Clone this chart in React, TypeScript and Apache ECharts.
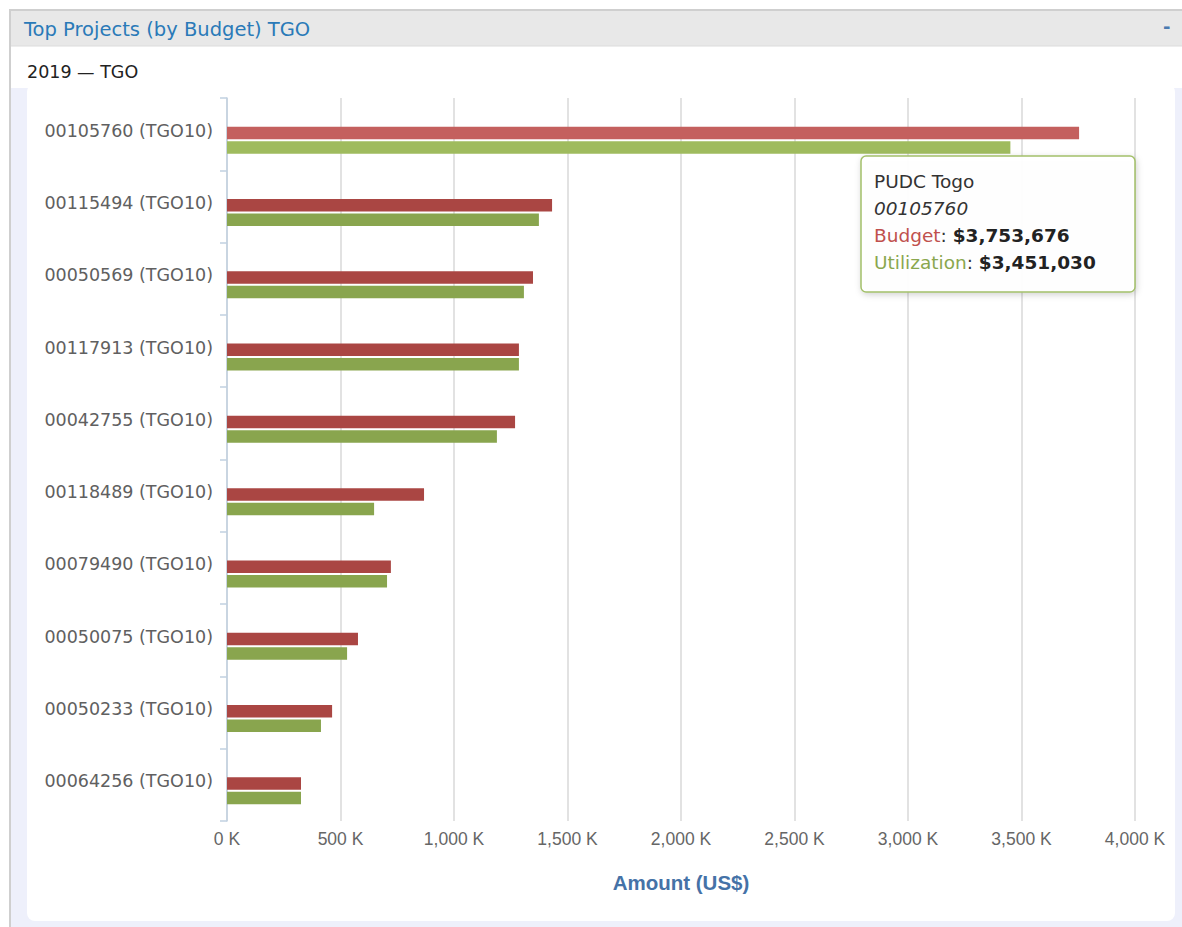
import React, { useEffect, useRef } from "react";
import * as echarts from "echarts";

const categories = [
  "00105760 (TGO10)",
  "00115494 (TGO10)",
  "00050569 (TGO10)",
  "00117913 (TGO10)",
  "00042755 (TGO10)",
  "00118489 (TGO10)",
  "00079490 (TGO10)",
  "00050075 (TGO10)",
  "00050233 (TGO10)",
  "00064256 (TGO10)",
];
const budget = [3753676, 1432000, 1348000, 1286000, 1269000, 868000, 722000, 577000, 463000, 326000];
const utilization = [3451030, 1374000, 1308000, 1286000, 1189000, 648000, 705000, 529000, 414000, 326000];
const xTicks = [0, 500000, 1000000, 1500000, 2000000, 2500000, 3000000, 3500000, 4000000];

const title = "Top Projects (by Budget) TGO";
const subtitle = "2019 — TGO";
const axisName = "Amount (US$)";
const tipTitle = "PUDC Togo";
const tipId = "00105760";
const tipBudget = "$3,753,676";
const tipUtil = "$3,451,030";

const RED = "#aa4643";
const GREEN = "#89a54e";
const RED_HI = "#c4605e";
const GREEN_HI = "#9fbb5e";

const fmtK = (v: number) => (v / 1000).toLocaleString("en-US") + " K";

export default function App() {
  const ref = useRef<HTMLDivElement>(null);
  useEffect(() => {
    if (!ref.current) return;
    const chart = echarts.init(ref.current, null, { renderer: "svg" });
    const gridLeft = 227;
    const gridRight = 1182 - 1135;
    const top = 98;
    const height = 723;
    const xMax = xTicks[xTicks.length - 1];
    const interval = xTicks[1] - xTicks[0];
    const labelFont = "'DejaVu Sans', Verdana, sans-serif";
    const narrowFont = "'Liberation Sans', Arial, sans-serif";
    const tipSize = 18.5;
    chart.setOption({
      animation: false,
      backgroundColor: "#ffffff",
      grid: [
        { left: gridLeft, right: gridRight, top, height, containLabel: false },
        { left: gridLeft, right: gridRight, top: top + 6, height, containLabel: false },
      ],
      xAxis: [
        {
          type: "value",
          gridIndex: 0,
          min: 0,
          max: xMax,
          interval,
          axisLine: { show: false },
          axisTick: { show: false },
          splitLine: { show: true, lineStyle: { color: "#d9d9d9", width: 1.5 } },
          axisLabel: {
            formatter: (v: number) => fmtK(v),
            color: "#666666",
            fontSize: 17.5,
            fontFamily: narrowFont,
            margin: 9,
          },
          name: axisName,
          nameLocation: "middle",
          nameGap: 51,
          nameTextStyle: {
            color: "#4572a7",
            fontWeight: "bold",
            fontSize: 20.5,
            fontFamily: narrowFont,
          },
        },
        {
          type: "value",
          gridIndex: 1,
          min: 0,
          max: xMax,
          interval,
          show: false,
          splitLine: { show: false },
        },
      ],
      yAxis: [
        {
          type: "category",
          gridIndex: 0,
          data: categories,
          inverse: true,
          axisLine: { show: true, lineStyle: { color: "#c0d0e0", width: 1.5 } },
          axisTick: { show: true, length: 7, lineStyle: { color: "#c0d0e0", width: 1.5 } },
          axisLabel: {
            margin: 14,
            formatter: (v: string) => "{l|" + v + "}",
            rich: {
              l: {
                color: "#606060",
                fontSize: 17.5,
                fontFamily: labelFont,
                padding: [0, 0, 7, 0],
              },
            },
          },
          splitLine: { show: false },
        },
        {
          type: "category",
          gridIndex: 1,
          data: categories,
          inverse: true,
          show: false,
        },
      ],
      series: [
        {
          name: "Budget",
          type: "bar",
          xAxisIndex: 1,
          yAxisIndex: 1,
          barWidth: 12.5,
          barGap: "16%",
          data: budget.map((v, i) => ({
            value: v,
            itemStyle: { color: i === 0 ? RED_HI : RED },
          })),
          itemStyle: { color: RED },
        },
        {
          name: "Utilization",
          type: "bar",
          xAxisIndex: 1,
          yAxisIndex: 1,
          barWidth: 12.5,
          barGap: "16%",
          data: utilization.map((v, i) => ({
            value: v,
            itemStyle: { color: i === 0 ? GREEN_HI : GREEN },
          })),
          itemStyle: { color: GREEN },
        },
      ],
      graphic: [
        { type: "rect", z: -10, silent: true, shape: { x: 10, y: 10, width: 1180, height: 925 }, style: { fill: "#eef0fb", stroke: "#cfcfcf", lineWidth: 2 } },
        { type: "rect", z: -9, silent: true, shape: { x: 11, y: 46, width: 1175, height: 42 }, style: { fill: "#ffffff" } },
        { type: "rect", z: -9, silent: true, shape: { x: 11, y: 11, width: 1175, height: 35 }, style: { fill: "#e8e8e8" } },
        { type: "line", z: -8, silent: true, shape: { x1: 11, y1: 46, x2: 1182, y2: 46 }, style: { stroke: "#dcdcdc", lineWidth: 1 } },
        { type: "rect", z: -8, silent: true, shape: { x: 27, y: 84, width: 1148, height: 837, r: 8 }, style: { fill: "#ffffff" } },
        {
          type: "text", z: 5, left: 24, top: 19,
          style: { text: title, fill: "#2a7ab8", fontSize: 19.5, fontFamily: labelFont },
        },
        {
          type: "text", z: 5, left: 1163, top: 17,
          style: { text: "-", fill: "#4a7ab0", fontSize: 18, fontFamily: labelFont, fontWeight: "bold" },
        },
        {
          type: "text", z: 5, left: 27, top: 63,
          style: { text: subtitle, fill: "#222222", fontSize: 17.5, fontFamily: labelFont },
        },
        {
          type: "rect", z: 50,
          shape: { x: 861, y: 156, width: 274, height: 136, r: 5 },
          style: { fill: "rgba(255,255,255,0.96)", stroke: "#a3c06a", lineWidth: 1.5, shadowBlur: 6, shadowOffsetX: 1, shadowOffsetY: 2, shadowColor: "rgba(0,0,0,0.18)" },
        },
        {
          type: "text", z: 51, left: 874, top: 172,
          style: { text: tipTitle, fill: "#333333", fontSize: tipSize, fontFamily: labelFont },
        },
        {
          type: "text", z: 51, left: 874, top: 199,
          style: { text: tipId, fill: "#333333", fontSize: tipSize, fontStyle: "italic", fontFamily: labelFont },
        },
        {
          type: "text", z: 51, left: 874, top: 226,
          style: {
            text: "{a|Budget}{c|: }{b|" + tipBudget + "}",
            rich: {
              a: { fill: "#c0504d", fontSize: tipSize, fontFamily: labelFont },
              c: { fill: "#333333", fontSize: tipSize, fontFamily: labelFont },
              b: { fill: "#222222", fontSize: tipSize, fontWeight: "bold", fontFamily: labelFont },
            },
          },
        },
        {
          type: "text", z: 51, left: 874, top: 253,
          style: {
            text: "{a|Utilization}{c|: }{b|" + tipUtil + "}",
            rich: {
              a: { fill: "#8aa74e", fontSize: tipSize, fontFamily: labelFont },
              c: { fill: "#333333", fontSize: tipSize, fontFamily: labelFont },
              b: { fill: "#222222", fontSize: tipSize, fontWeight: "bold", fontFamily: labelFont },
            },
          },
        },
      ],
    });
    return () => chart.dispose();
  }, []);
  return (
    <div
      ref={ref}
      style={{ position: "absolute", left: 0, top: 0, width: 1182, height: 927 }}
    />
  );
}
